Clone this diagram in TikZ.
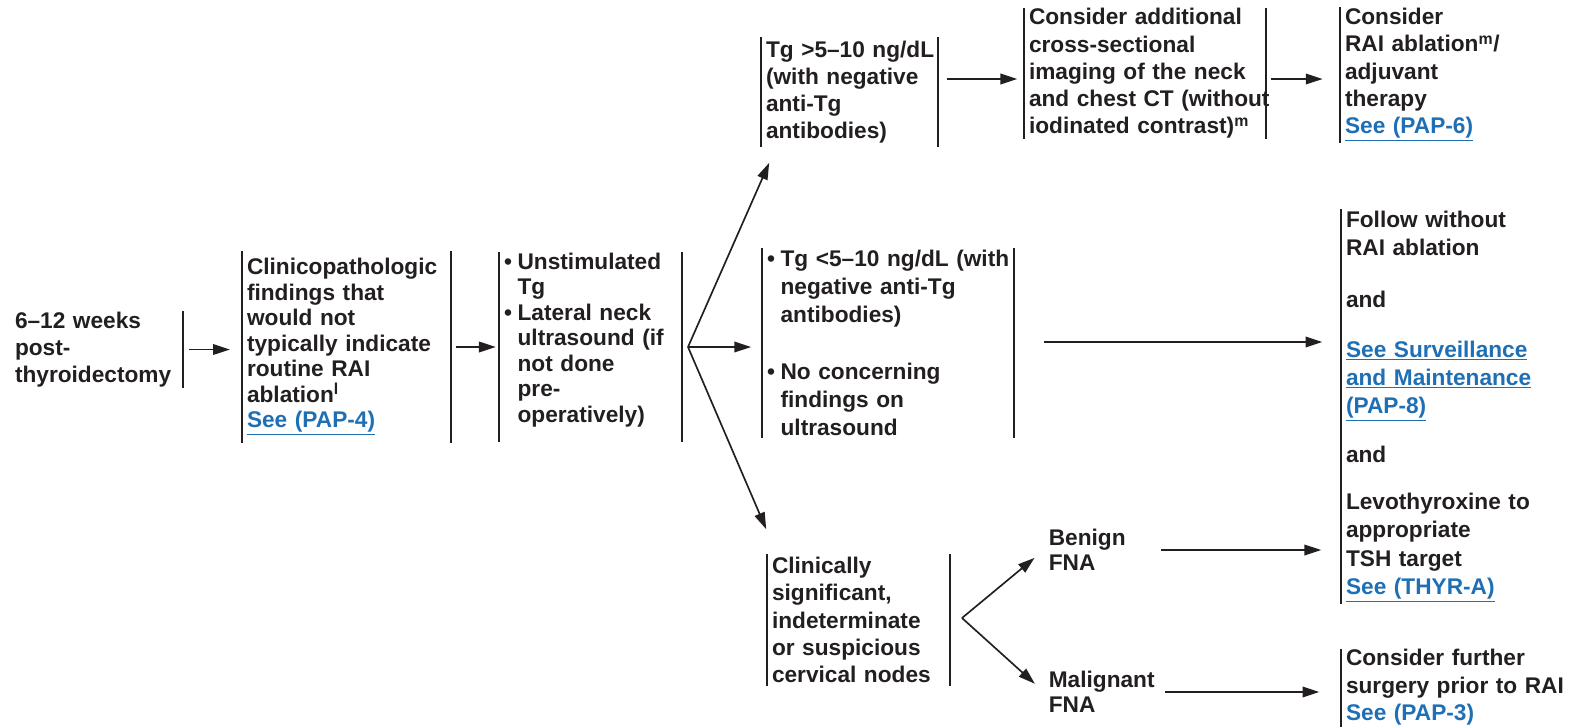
\documentclass[tikz,border=0pt]{standalone}
\usepackage{fontspec}
\setmainfont{Liberation Sans}
\usetikzlibrary{arrows.meta,calc}
\definecolor{txtGray}{RGB}{35,31,32}
\definecolor{linkBlue}{RGB}{31,111,181}
\newcommand{\seelink}[1]{\textcolor{linkBlue}{\underline{#1}}}
\newcommand{\bul}{\makebox[0.6em][l]{\textbullet}}
\newcommand{\bulind}{\hspace*{0.6em}}

\begin{document}
\begin{tikzpicture}[x=0.02cm, y=-0.02cm, line width=0.95pt, txtGray,
		box/.style={inner xsep=0.08cm, inner ysep=0pt, align=left, text=txtGray,
			font=\fontsize{12.9}{15.5}\selectfont\bfseries,
			execute at begin node={\hyphenpenalty=10000\exhyphenpenalty=10000}},
		tight/.style={font=\fontsize{12.9}{14.5}\selectfont\bfseries},
		loose/.style={font=\fontsize{12.9}{16}\selectfont\bfseries},
		lbar/.style={append after command={(\tikzlastnode.north west) edge[-] (\tikzlastnode.south west)}},
		rbar/.style={append after command={(\tikzlastnode.north east) edge[-] (\tikzlastnode.south east)}},
		arr/.style={-{Triangle[length=9.5pt,width=6pt]}}]
			\useasboundingbox (0,0) rectangle (1569,727);

			\draw (96.5,349.5) node[box, rbar, text width=3.26cm, minimum height=1.5cm] (weeks) {6–12 weeks\\post-\\thyroidectomy};
			\draw (346.5,347) node[box, tight, lbar, rbar, text width=3.98cm, minimum height=3.8cm] (findings)
				{Clinicopathologic\\findings~that\\would~not\\typically~indicate\\routine~RAI\\ablation\textsuperscript{l}\\\seelink{See (PAP-4)}};
			\draw (590.5,347) node[box, tight, lbar, rbar, text width=3.46cm, minimum height=3.76cm] (tests)
				{\bul Unstimulated\\\bulind Tg\\\bul Lateral~neck\\\bulind ultrasound~(if\\\bulind not~done\\\bulind pre-\\\bulind operatively)\par\vspace{8pt}};
			\coordinate (fork) at (688,347);

			\draw (849.5,92) node[box, lbar, rbar, text width=3.34cm, minimum height=2.16cm] (tghigh)
				{Tg~>5–10~ng/dL\\(with~negative\\anti-Tg\\antibodies)};
			\draw (1145,73.5) node[box, lbar, rbar, text width=4.64cm, minimum height=2.54cm] (imaging)
				{Consider~additional\\cross-sectional\\imaging~of~the~neck\\and~chest~CT~(without\\iodinated~contrast)\textsuperscript{m}};
			\draw (1441,75) node[box, lbar, text width=3.84cm, minimum height=2.48cm] (rai)
				{Consider\\RAI~ablation\textsuperscript{m}/\\adjuvant\\therapy\\\seelink{See (PAP-6)}};

			\draw (888,343) node[box, loose, lbar, rbar, text width=4.84cm, minimum height=3.76cm] (tglow)
				{\bul Tg~<5–10~ng/dL~(with\\\bulind negative~anti-Tg\\\bulind antibodies)\\[16pt]\bul No~concerning\\\bulind findings~on\\\bulind ultrasound};
			\draw (1452,406.5) node[box, loose, lbar, text width=4.24cm, minimum height=7.86cm] (follow)
				{Follow~without\\RAI~ablation\\[14pt]and\\[12pt]\seelink{See~Surveillance}\\\seelink{and~Maintenance}\\\seelink{(PAP-8)}\\[12pt]and\\[11pt]Levothyroxine~to\\appropriate\\TSH~target\\\seelink{See (THYR-A)}};

			\draw (858.5,620) node[box, lbar, rbar, text width=3.46cm, minimum height=2.6cm] (cervical)
				{Clinically\\significant,\\indeterminate\\or~suspicious\\cervical~nodes};
			\coordinate (fork2) at (962,618);
			\draw (1044,550) node[box, tight, anchor=west] (benign) {Benign\\FNA};
			\draw (1044,692) node[box, tight, anchor=west] (malig) {Malignant\\FNA};
			\draw (1455.5,689) node[box, lbar, text width=4.38cm, minimum height=1.52cm] (surgery)
				{Consider~further\\surgery~prior~to~RAI\\\seelink{See (PAP-3)}};

			\path[arr]
			(weeks.east) edge[shorten <=3.4pt, shorten >=7pt] (weeks.east -| findings.west)
			(findings.east) edge[shorten <=2.8pt, shorten >=2pt] (findings.east -| tests.west)
			(fork) edge ($(tghigh.south west)+(8,16)$)
			(fork) edge[shorten >=6.3pt] (fork -| tglow.west)
			(fork) edge ($(cervical.north west)+(-1,-25)$)
			(tghigh.east |- 0,79) edge[shorten <=5pt, shorten >=4pt] (imaging.west |- 0,79)
			(imaging.east |- 0,79) edge[shorten <=2.8pt, shorten >=10pt] (rai.west |- 0,79)
			(tglow.east |- 0,342) edge[shorten <=17pt, shorten >=10.8pt] (follow.west |- 0,342)
			(fork2) edge[shorten >=7pt] (benign.west)
			(fork2) edge[shorten >=7pt] (malig.west)
			(benign.east) edge[shorten <=17.6pt, shorten >=11.4pt] (benign.east -| follow.west)
			(malig.east) edge[shorten <=3.4pt, shorten >=12.5pt] (malig.east -| surgery.west)
			;
		\end{tikzpicture}
\end{document}
